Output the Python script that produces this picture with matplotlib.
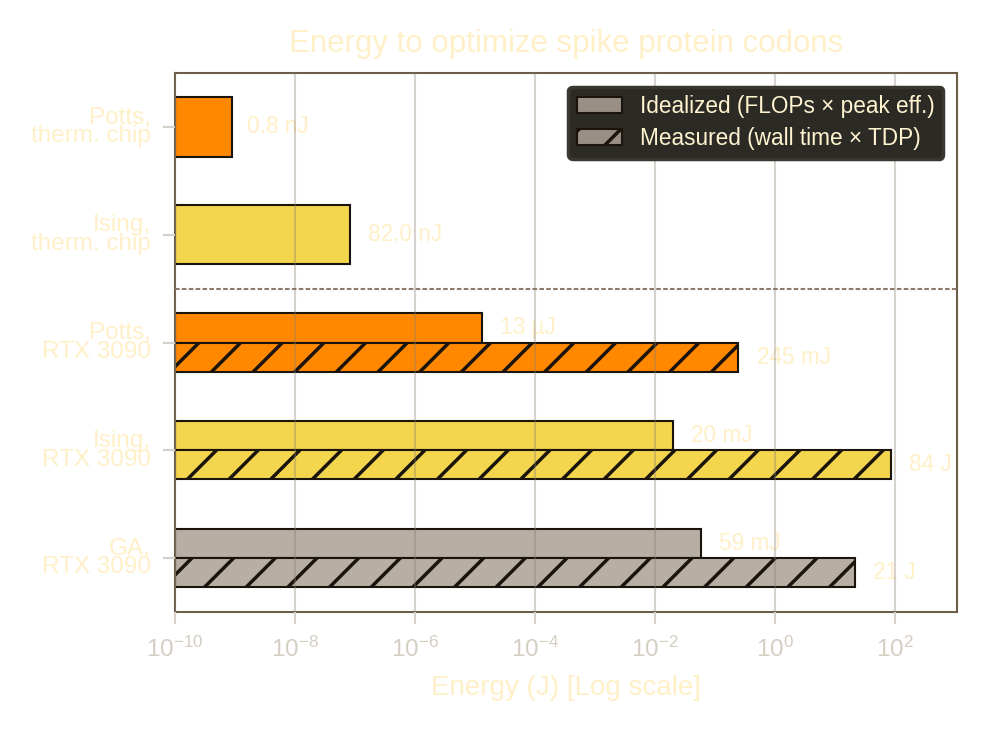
import matplotlib
matplotlib.use("Agg")
import matplotlib.pyplot as plt
from matplotlib.patches import Patch
import numpy as np

plt.rcParams['font.family'] = ['Liberation Sans', 'DejaVu Sans']
plt.rcParams['mathtext.default'] = 'regular'
plt.rcParams['hatch.linewidth'] = 1.0

# ---- data ----
categories = ["Potts,\ntherm. chip", "Ising,\ntherm. chip", "Potts,\nRTX 3090",
              "Ising,\nRTX 3090", "GA,\nRTX 3090"]
idealized = [8.0e-10, 8.2e-8, 1.3e-5, 2.0e-2, 5.9e-2]
measured = [None, None, 2.45e-1, 84.0, 21.0]
idealized_labels = ["0.8 nJ", "82.0 nJ", "13 µJ", "20 mJ", "59 mJ"]
measured_labels = [None, None, "245 mJ", "84 J", "21 J"]
bar_colors = ["#FF8800", "#F4D54E", "#FF8800", "#F4D54E", "#B8AFA4"]

TEXT = "#FFF0C8"
EDGE = "#1A140C"
TICKC = "#D6D0C8"

fig = plt.figure(figsize=(985 / 250, 731 / 250), dpi=250, facecolor="white")
ax = fig.add_axes([175 / 985, 1 - 612 / 731, (957 - 175) / 985, (612 - 73) / 731])

n = len(categories)
ypos = np.arange(n)[::-1]
for i in range(n):
    y = ypos[i]
    if measured[i] is None:
        ax.barh(y, idealized[i], height=0.55, left=1e-10, color=bar_colors[i],
                edgecolor=EDGE, linewidth=0.6, zorder=2)
        ax.annotate(idealized_labels[i], (idealized[i], y), xytext=(5.2, 0),
                    textcoords="offset points", va="center", ha="left",
                    color=TEXT, fontsize=6.5, zorder=1)
    else:
        ax.barh(y + 0.135, idealized[i], height=0.27, left=1e-10, color=bar_colors[i],
                edgecolor=EDGE, linewidth=0.6, zorder=2)
        ax.barh(y - 0.135, measured[i], height=0.27, left=1e-10, color=bar_colors[i],
                edgecolor=EDGE, linewidth=0.6, hatch="//", zorder=2)
        ax.annotate(idealized_labels[i], (idealized[i], y + 0.135), xytext=(5.2, 0),
                    textcoords="offset points", va="center", ha="left",
                    color=TEXT, fontsize=6.5, zorder=1)
        ax.annotate(measured_labels[i], (measured[i], y - 0.135), xytext=(5.2, 0),
                    textcoords="offset points", va="center", ha="left",
                    color=TEXT, fontsize=6.5, zorder=1)

ax.set_xscale("log")
ax.set_xlim(1e-10, 10 ** 3.03)
ax.set_ylim(-0.5, 4.5)
ax.set_yticks(ypos)
ax.set_yticklabels(categories, linespacing=0.8, va="center")
ax.set_xticks([10.0 ** k for k in range(-10, 3, 2)])
ax.minorticks_off()

ax.axhline(2.5, color="#8F7B6C", linewidth=0.6, linestyle=(0, (2.2, 1.1)), zorder=3)

ax.grid(axis="x", color="#8A7F70", alpha=0.35, linewidth=0.6, zorder=4)
ax.set_axisbelow(False)

for s in ax.spines.values():
    s.set_color("#6B5D4A")
    s.set_linewidth(0.6)

ax.tick_params(axis="y", colors=TICKC, labelcolor=TEXT, labelsize=7, length=3.5, width=0.6)
ax.tick_params(axis="x", colors=TICKC, labelcolor="#D4CDC2", labelsize=7, length=3.5, width=0.6)

ax.set_xlabel("Energy (J) [Log scale]", color=TEXT, fontsize=8)
ax.set_title("Energy to optimize spike protein codons", color=TEXT, fontsize=9)

handles = [Patch(facecolor="#9A8F84", edgecolor=EDGE, linewidth=0.6, label="Idealized (FLOPs × peak eff.)"),
           Patch(facecolor="#9A8F84", edgecolor=EDGE, linewidth=0.6, hatch="//", label="Measured (wall time × TDP)")]
leg = ax.legend(handles=handles, loc="upper right", fontsize=6.5, facecolor="#2B2A25",
                edgecolor="#3A3630", framealpha=1.0, labelcolor="#FFF3D0",
                labelspacing=0.4, borderpad=0.38, borderaxespad=0.6)
leg.set_zorder(6)

fig.savefig("out.png", dpi=250, facecolor="white")
